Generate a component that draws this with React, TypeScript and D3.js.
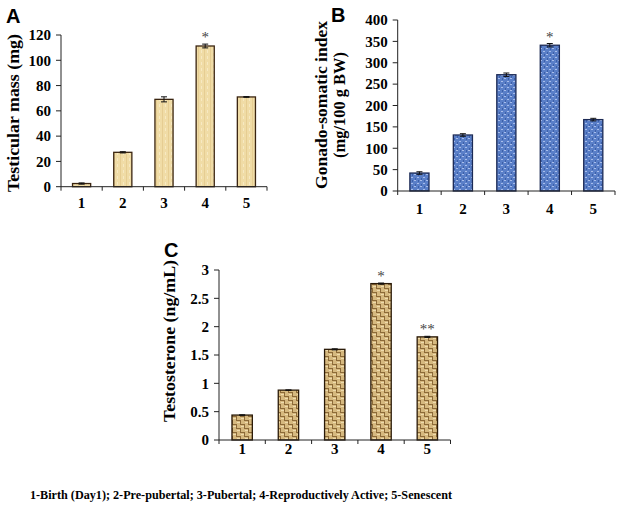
import React from "react";
import * as d3 from "d3";

const categories = ["1", "2", "3", "4", "5"];
const massValues = [2.5, 27.2, 69.1, 111.3, 71];
const massErrors = [0.5, 0.5, 2, 1.5, 0.3];
const massStars = ["", "", "", "*", ""];
const massTicks = [0, 20, 40, 60, 80, 100, 120];

const gsiValues = [42, 131, 272, 341, 167];
const gsiErrors = [3, 3, 4, 4, 3];
const gsiStars = ["", "", "", "*", ""];
const gsiTicks = [0, 50, 100, 150, 200, 250, 300, 350, 400];

const testoValues = [0.44, 0.88, 1.6, 2.76, 1.82];
const testoErrors = [0.005, 0.005, 0.01, 0.01, 0.01];
const testoStars = ["", "", "", "*", "**"];
const testoTicks = [0, 0.5, 1, 1.5, 2, 2.5, 3];

const footer = "1-Birth (Day1); 2-Pre-pubertal; 3-Pubertal; 4-Reproductively Active; 5-Senescent";

const SERIF = "'Liberation Serif', 'Times New Roman', serif";
const SANS = "'Liberation Sans', Arial, sans-serif";

type PanelProps = {
  x0: number; x1: number; y0: number; y1: number; max: number;
  values: number[]; errors: number[]; stars: string[]; ticks: number[];
  fill: string; stroke: string; letter: string; lx: number; ly: number;
  titles: { text: string; x: number; len: number }[]; titleY: number; titleSize: number;
  labelY: number; tickFmt: (v: number) => string;
};

function Panel(p: PanelProps) {
  const x = d3.scaleBand<string>().domain(categories).range([p.x0, p.x1]).paddingInner(0.56).paddingOuter(0.28);
  const y = d3.scaleLinear().domain([0, p.max]).range([p.y0, p.y1]);
  const step = x.step();
  const bw = x.bandwidth();
  return (
    <g>
      <text x={p.lx} y={p.ly} fontFamily={SANS} fontWeight="bold" fontSize={20}>{p.letter}</text>
      {p.titles.map((t, i) => (
        <text key={i} transform={`translate(${t.x},${p.titleY}) rotate(-90)`} textAnchor="middle"
          fontFamily={SERIF} fontWeight="bold" fontSize={p.titleSize} textLength={t.len} lengthAdjust="spacingAndGlyphs">{t.text}</text>
      ))}
      {p.values.map((v, i) => {
        const bx = x(categories[i])!;
        const cx = bx + bw / 2;
        const e = p.errors[i];
        return (
          <g key={i}>
            <rect x={bx} y={y(v)} width={bw} height={p.y0 - y(v)} fill={p.fill} stroke={p.stroke} strokeWidth={1.3} />
            <line x1={cx} x2={cx} y1={y(v - e)} y2={y(v + e)} stroke="#111" strokeWidth={1} />
            <line x1={cx - 3} x2={cx + 3} y1={y(v + e)} y2={y(v + e)} stroke="#111" strokeWidth={1} />
            <line x1={cx - 3} x2={cx + 3} y1={y(v - e)} y2={y(v - e)} stroke="#111" strokeWidth={1} />
            {p.stars[i] && (
              <text x={cx} y={y(v + e) - 2} textAnchor="middle" fontFamily={SERIF} fontSize={15} fill="#444">{p.stars[i]}</text>
            )}
          </g>
        );
      })}
      <line x1={p.x0} x2={p.x0} y1={p.y0} y2={p.y1} stroke="#222" strokeWidth={1} />
      <line x1={p.x0} x2={p.x1} y1={p.y0} y2={p.y0} stroke="#222" strokeWidth={1} />
      {p.ticks.map((t, i) => (
        <g key={i}>
          <line x1={p.x0 - 5} x2={p.x0} y1={y(t)} y2={y(t)} stroke="#222" />
          <text x={p.x0 - 10} y={y(t)} dy="0.35em" textAnchor="end" fontFamily={SERIF} fontWeight="bold" fontSize={15}>{p.tickFmt(t)}</text>
        </g>
      ))}
      {d3.range(categories.length + 1).map(i => (
        <line key={i} x1={p.x0 + i * step} x2={p.x0 + i * step} y1={p.y0} y2={p.y0 + 4} stroke="#222" />
      ))}
      {categories.map(c => (
        <text key={c} x={x(c)! + bw / 2} y={p.labelY} dy="0.35em" textAnchor="middle" fontFamily={SERIF} fontWeight="bold" fontSize={15}>{c}</text>
      ))}
    </g>
  );
}

export default function App() {
  return (
    <svg width={624} height={523} style={{ position: "absolute", left: 0, top: 0, background: "#fff" }}>
      <defs>
        <pattern id="patA" width="6" height="6" patternUnits="userSpaceOnUse">
          <rect width="6" height="6" fill="#f0dca6" />
          <rect x="0" y="0" width="1" height="6" fill="#e6cd92" />
          <rect x="3" y="2" width="1" height="3" fill="#f7e9c2" />
        </pattern>
        <pattern id="patB" width="6" height="6" patternUnits="userSpaceOnUse">
          <rect width="6" height="6" fill="#5a7fc8" />
          <rect x="0" y="0" width="2" height="1" fill="#a8bdea" />
          <rect x="3" y="3" width="2" height="1" fill="#a8bdea" />
          <rect x="4" y="0" width="1" height="2" fill="#3c5fa8" />
          <rect x="1" y="4" width="1" height="2" fill="#3c5fa8" />
        </pattern>
        <pattern id="patC" width="8" height="8" patternUnits="userSpaceOnUse">
          <rect width="8" height="8" fill="#d6b97f" />
          <rect x="0" y="0" width="4" height="1" fill="#8c6a38" />
          <rect x="4" y="4" width="4" height="1" fill="#8c6a38" />
          <rect x="4" y="0" width="1" height="4" fill="#8c6a38" />
          <rect x="0" y="4" width="1" height="4" fill="#8c6a38" />
          <rect x="1" y="2" width="3" height="1" fill="#efdcae" />
          <rect x="5" y="6" width="3" height="1" fill="#efdcae" />
        </pattern>
      </defs>
      <Panel x0={61} x1={267} y0={186.7} y1={35} max={120} values={massValues} errors={massErrors} stars={massStars}
        ticks={massTicks} fill="url(#patA)" stroke="#3a2410" letter="A" lx={6} ly={23}
        titles={[{ text: "Testicular mass (mg)", x: 19, len: 158 }]} titleY={113} titleSize={17} labelY={203} tickFmt={v => String(v)} />
      <Panel x0={397.7} x1={615} y0={191} y1={20} max={400} values={gsiValues} errors={gsiErrors} stars={gsiStars}
        ticks={gsiTicks} fill="url(#patB)" stroke="#1c2a55" letter="B" lx={331} ly={22}
        titles={[{ text: "Gonado-somatic index", x: 327, len: 168 }, { text: "(mg/100 g BW)", x: 345, len: 106 }]} titleY={105} titleSize={17}
        labelY={209} tickFmt={v => String(v)} />
      <Panel x0={219} x1={450.5} y0={440} y1={270} max={3} values={testoValues} errors={testoErrors} stars={testoStars}
        ticks={testoTicks} fill="url(#patC)" stroke="#2a1a08" letter="C" lx={164} ly={257}
        titles={[{ text: "Testosterone (ng/mL)", x: 175, len: 162 }]} titleY={341} titleSize={17} labelY={449} tickFmt={v => String(v)} />
      <text x={30} y={499} fontFamily={SERIF} fontWeight="bold" fontSize={12} textLength={422} lengthAdjust="spacingAndGlyphs">{footer}</text>
    </svg>
  );
}
